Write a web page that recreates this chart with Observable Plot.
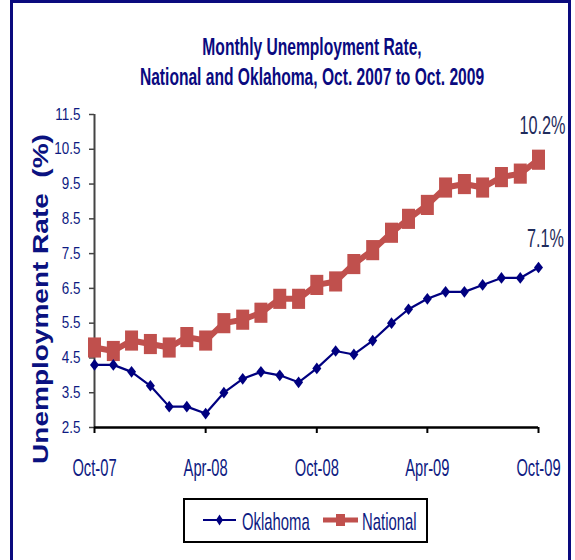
<!DOCTYPE html>
<html>
<head>
<meta charset="utf-8">
<script src="https://cdn.jsdelivr.net/npm/d3@7"></script>
<script src="https://cdn.jsdelivr.net/npm/@observablehq/plot@0.6"></script>
<style>
  html, body { margin: 0; padding: 0; background: #fff; }
  body { width: 575px; height: 560px; position: relative; overflow: hidden;
         font-family: "Liberation Sans", Arial, sans-serif; }
  #frame { position: absolute; left: 10px; top: 0; width: 555px; height: 600px;
           border: 3px solid #0a0a7e; border-bottom: none; }
  .title { position: absolute; left: 312px; white-space: nowrap; font-weight: bold;
           font-size: 24px; line-height: 24px; color: #0a0a80;
           transform: translateX(-50%) scaleX(0.65); }
  #ylabel { position: absolute; left: 41px; top: 299px; white-space: pre; font-weight: bold;
            font-size: 28px; line-height: 28px; color: #0a1280;
            transform: translate(-50%, -50%) rotate(-90deg) scaleY(0.82); }
  #chart { position: absolute; left: 0; top: 95px; }
  #legend { position: absolute; left: 183px; top: 498px; }
</style>
</head>
<body>
<div id="frame"></div>
<div class="title" id="t1" style="top:35px"></div>
<div class="title" id="t2" style="top:65px"></div>
<div id="ylabel"></div>
<div id="chart"></div>
<svg id="legend" width="245" height="45"></svg>
<script>
// ---- data ----
const titleLines = ["Monthly Unemployment Rate,", "National and Oklahoma, Oct. 2007 to Oct. 2009"];
const yAxisTitle = "Unemployment Rate  (%)";
const months = ["2007-10","2007-11","2007-12","2008-01","2008-02","2008-03","2008-04","2008-05",
                "2008-06","2008-07","2008-08","2008-09","2008-10","2008-11","2008-12","2009-01",
                "2009-02","2009-03","2009-04","2009-05","2009-06","2009-07","2009-08","2009-09","2009-10"];
const oklahoma = [4.3,4.3,4.1,3.7,3.1,3.1,2.9,3.5,3.9,4.1,4.0,3.8,4.2,4.7,4.6,5.0,5.5,5.9,6.2,6.4,6.4,6.6,6.8,6.8,7.1];
const national = [4.8,4.7,5.0,4.9,4.8,5.1,5.0,5.5,5.6,5.8,6.2,6.2,6.6,6.7,7.2,7.6,8.1,8.5,8.9,9.4,9.5,9.4,9.7,9.8,10.2];
const seriesNames = ["Oklahoma", "National"];
const endLabels = ["7.1%", "10.2%"];
const yTicks = [2.5,3.5,4.5,5.5,6.5,7.5,8.5,9.5,10.5,11.5];
const xTickMonths = ["2007-10","2008-04","2008-10","2009-04","2009-10"];

// ---- styles ----
const NAVY = "#000080";
const RED = "#c0504d";
const LABEL = "#0d1a82";
const ANNOT = "#1f2c5c";
const FONT = '"Liberation Sans", Arial, sans-serif';

document.getElementById("t1").textContent = titleLines[0];
document.getElementById("t2").textContent = titleLines[1];
document.getElementById("ylabel").textContent = yAxisTitle;

const toDate = m => new Date(m + "-01T00:00:00Z");
const okData = months.map((m, i) => ({date: toDate(m), value: oklahoma[i]}));
const natData = months.map((m, i) => ({date: toDate(m), value: national[i]}));
const xDomain = [toDate(months[0]), toDate(months[months.length - 1])];

const diamondSym = { draw(ctx, size) { const r = Math.sqrt(size / Math.PI);
  ctx.moveTo(0, -1.3 * r); ctx.lineTo(r, 0); ctx.lineTo(0, 1.3 * r); ctx.lineTo(-r, 0); ctx.closePath(); } };
const rectSym = { draw(ctx, size) { const r = Math.sqrt(size / Math.PI);
  ctx.rect(-r, -1.55 * r, 2 * r, 3.1 * r); } };

const chart = Plot.plot({
  width: 575, height: 400,
  marginTop: 19, marginBottom: 68, marginLeft: 94, marginRight: 37,
  style: {fontFamily: FONT, background: "transparent", overflow: "visible"},
  x: {type: "utc", domain: xDomain},
  y: {domain: [2.5, 11.5]},
  marks: [
    Plot.axisY({ticks: yTicks, tickSize: 5, tickPadding: 9, tickFormat: d => d.toFixed(1),
                fontSize: 16, fill: LABEL, stroke: "#444", strokeWidth: 1.5, label: null}),
    Plot.axisX({ticks: xTickMonths.map(toDate), tickSize: 6, tickPadding: 26,
                tickFormat: d3.utcFormat("%b-%y"), fontSize: 23, fill: LABEL,
                stroke: "#000", strokeWidth: 2, label: null}),
    Plot.ruleX([xDomain[0]], {y1: 2.5, y2: 11.5, stroke: "#444", strokeWidth: 2}),
    Plot.ruleY([2.5], {stroke: "#000", strokeWidth: 2.5}),
    Plot.line(natData, {x: "date", y: "value", stroke: RED, strokeWidth: 6}),
    Plot.dot(natData, {x: "date", y: "value", symbol: rectSym, r: 6.5, fill: RED}),
    Plot.line(okData, {x: "date", y: "value", stroke: NAVY, strokeWidth: 2.2}),
    Plot.dot(okData, {x: "date", y: "value", symbol: diamondSym, r: 4.5, fill: NAVY}),
    Plot.text([natData[natData.length - 1]], {x: "date", y: "value", text: () => endLabels[1],
               dy: -34, dx: 4, fontSize: 25, fill: ANNOT}),
    Plot.text([okData[okData.length - 1]], {x: "date", y: "value", text: () => endLabels[0],
               dy: -29, dx: 7, fontSize: 25, fill: ANNOT})
  ]
});
document.getElementById("chart").appendChild(chart);

function squeeze(root, sel, s) {
  root.querySelectorAll(sel).forEach(t => {
    const x = +(t.getAttribute("x") || 0);
    const tr = t.getAttribute("transform") || "";
    t.setAttribute("transform", `${tr} translate(${x},0) scale(${s},1) translate(${-x},0)`);
  });
}
squeeze(chart, 'g[aria-label="y-axis tick label"] text', 0.84);
squeeze(chart, 'g[aria-label="x-axis tick label"] text', 0.64);
squeeze(chart, 'g[aria-label="text"] text', 0.65);

// ---- legend ----
const leg = d3.select("#legend");
leg.append("rect").attr("x", 1).attr("y", 1).attr("width", 243).attr("height", 43)
   .attr("fill", "#fff").attr("stroke", "#000").attr("stroke-width", 2);
const legItems = [
  {name: seriesNames[0], x0: 20, x1: 53, tx: 59, color: NAVY, sw: 2, sym: "diamond"},
  {name: seriesNames[1], x0: 140, x1: 175, tx: 179, color: RED, sw: 5, sym: "rect"}
];
legItems.forEach(it => {
  leg.append("line").attr("x1", it.x0).attr("x2", it.x1).attr("y1", 22).attr("y2", 22)
     .attr("stroke", it.color).attr("stroke-width", it.sw);
  const cx = (it.x0 + it.x1) / 2;
  if (it.sym === "diamond") {
    leg.append("path").attr("d", `M${cx},16.5L${cx + 3.5},22L${cx},27.5L${cx - 3.5},22Z`).attr("fill", it.color);
  } else {
    leg.append("rect").attr("x", cx - 4.5).attr("y", 16).attr("width", 9).attr("height", 12).attr("fill", it.color);
  }
  leg.append("text").attr("transform", `translate(${it.tx},32) scale(0.62,1)`)
     .attr("font-family", FONT).attr("font-size", 24).attr("fill", LABEL).text(it.name);
});
</script>
</body>
</html>
